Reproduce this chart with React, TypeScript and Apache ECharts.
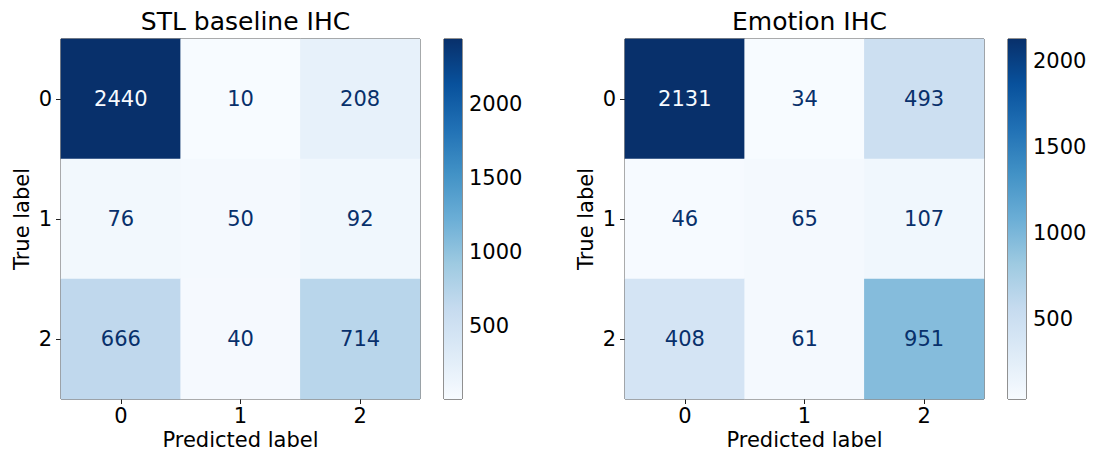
import React, { useEffect, useRef } from "react";
import * as echarts from "echarts";

const classLabels = ["0", "1", "2"];
const titles = ["STL baseline IHC", "Emotion IHC"];
// rows = true label, cols = predicted label
const stlMatrix = [
  [2440, 10, 208],
  [76, 50, 92],
  [666, 40, 714],
];
const emotionMatrix = [
  [2131, 34, 493],
  [46, 65, 107],
  [408, 61, 951],
];
const colorbarTicks = [500, 1000, 1500, 2000];
const blues = ["#f7fbff", "#deebf7", "#c6dbef", "#9ecae1", "#6baed6", "#4292c6", "#2171b5", "#08519c", "#08306b"];

const FONT = "DejaVu Sans";

function buildPanel(matrix: number[][], title: string, idx: number, heatLeft: number, cbLeft: number) {
  const flat = matrix.flat();
  const vmin = Math.min(...flat);
  const vmax = Math.max(...flat);
  const thresh = (vmin + vmax) / 2;
  const data: any[] = [];
  matrix.forEach((row, r) =>
    row.forEach((v, c) => {
      data.push({
        value: [c, r, v],
        label: { color: v >= thresh ? blues[0] : blues[8] },
      });
    })
  );
  const gHeat = idx * 2;
  const gBar = idx * 2 + 1;
  const top = 39;
  const size = 360;
  const grids = [
    { left: heatLeft, top, width: 359, height: size, show: true, borderColor: "#222", borderWidth: 1, backgroundColor: "transparent", outerBoundsMode: "none", containLabel: false },
    { left: cbLeft, top, width: 18, height: size, show: true, borderColor: "#222", borderWidth: 1, backgroundColor: "transparent", outerBoundsMode: "none", containLabel: false },
  ];
  const axisText = { color: "#000", fontFamily: FONT, fontSize: 21 };
  const xAxes = [
    {
      gridIndex: gHeat,
      type: "category",
      data: classLabels,
      name: "Predicted label",
      nameLocation: "middle",
      nameGap: 30,
      nameMoveOverlap: false,
      nameTextStyle: { ...axisText, lineHeight: 21 },
      axisLine: { show: false },
      axisTick: { show: true, alignWithLabel: true, length: 5, lineStyle: { color: "#222" } },
      axisLabel: { ...axisText, lineHeight: 21, margin: 6 },
      splitLine: { show: false },
    },
    { gridIndex: gBar, type: "value", min: 0, max: 1, show: false },
  ];
  const yAxes = [
    {
      gridIndex: gHeat,
      type: "category",
      data: classLabels,
      inverse: true,
      name: "True label",
      nameLocation: "middle",
      nameGap: 29,
      nameRotate: 90,
      nameTextStyle: axisText,
      axisLine: { show: false },
      axisTick: { show: true, alignWithLabel: true, length: 5, lineStyle: { color: "#222" } },
      axisLabel: { ...axisText, margin: 9 },
      splitLine: { show: false },
    },
    {
      gridIndex: gBar,
      type: "value",
      position: "right",
      min: vmin,
      max: vmax,
      axisLine: { show: false },
      axisTick: { show: true, length: 5, lineStyle: { color: "#222" }, customValues: colorbarTicks },
      axisLabel: { ...axisText, margin: 7, customValues: colorbarTicks, formatter: (v: number) => String(v) },
      splitLine: { show: false },
    },
  ];
  const series = [
    {
      type: "heatmap",
      xAxisIndex: gHeat,
      yAxisIndex: gHeat,
      data,
      label: { show: true, fontFamily: FONT, fontSize: 21, formatter: (p: any) => String(p.value[2]) },
      itemStyle: { borderWidth: 0 },
      emphasis: { disabled: true },
    },
    {
      type: "custom",
      xAxisIndex: gBar,
      yAxisIndex: gBar,
      data: [[0, vmin, vmax]],
      renderItem: (params: any, api: any) => {
        const p0 = api.coord([0, api.value(2)]);
        const p1 = api.coord([1, api.value(1)]);
        return {
          type: "rect",
          shape: { x: p0[0], y: p0[1], width: p1[0] - p0[0], height: p1[1] - p0[1] },
          style: {
            fill: {
              type: "linear",
              x: 0, y: 1, x2: 0, y2: 0,
              colorStops: blues.map((c, i) => ({ offset: i / (blues.length - 1), color: c })),
            },
          },
        };
      },
      silent: true,
    },
  ];
  const visualMap = {
    type: "continuous",
    show: false,
    seriesIndex: idx * 2,
    min: vmin,
    max: vmax,
    inRange: { color: blues },
  };
  const titleOpt = {
    text: title,
    left: heatLeft + 179.5,
    textAlign: "center",
    top: 4,
    textStyle: { fontFamily: FONT, fontSize: 25, fontWeight: "normal", color: "#000" },
  };
  return { grids, xAxes, yAxes, series, visualMap, titleOpt };
}

export default function App() {
  const ref = useRef<HTMLDivElement>(null);
  useEffect(() => {
    document.body.style.margin = "0";
    const chart = echarts.init(ref.current!, null, { renderer: "svg" });
    const a = buildPanel(stlMatrix, titles[0], 0, 61, 444);
    const b = buildPanel(emotionMatrix, titles[1], 1, 625, 1008);
    chart.setOption({
      animation: false,
      backgroundColor: "#fff",
      title: [a.titleOpt, b.titleOpt],
      grid: [...a.grids, ...b.grids],
      xAxis: [...a.xAxes, ...b.xAxes],
      yAxis: [...a.yAxes, ...b.yAxes],
      visualMap: [a.visualMap, b.visualMap],
      series: [...a.series, ...b.series],
    });
    return () => chart.dispose();
  }, []);
  return <div ref={ref} style={{ width: 1094, height: 453 }} />;
}
